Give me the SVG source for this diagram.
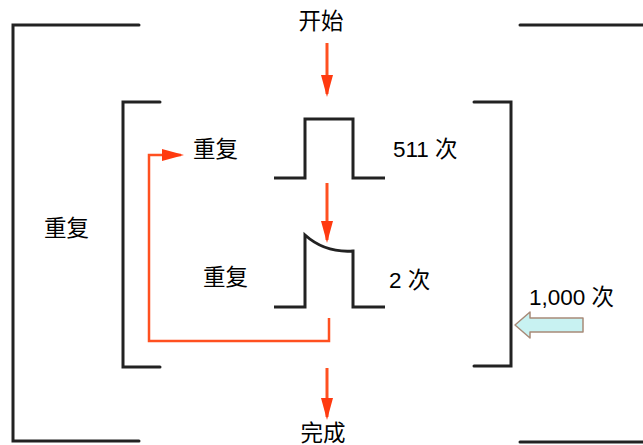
<svg xmlns="http://www.w3.org/2000/svg" width="643" height="445" viewBox="0 0 643 445">
<defs>
<style>
.br{fill:none;stroke:#222;stroke-width:3;stroke-linecap:round;stroke-linejoin:miter}
.pl{fill:none;stroke:#222;stroke-width:3;stroke-linejoin:miter}
.ar{fill:none;stroke:#ff5020;stroke-width:3}
.or{fill:none;stroke:#ff5020;stroke-width:2.5}
.t{font-family:"Liberation Sans","Noto Sans CJK SC",sans-serif;font-size:22.5px;fill:#000}
</style>
<marker id="ah" viewBox="0 0 22 12" refX="19" refY="6" markerWidth="22" markerHeight="12" markerUnits="userSpaceOnUse" orient="auto">
<path d="M0,0 L22,6 L0,12 Z" fill="#ff3a10"/>
</marker>
</defs>
<g id="outer-bracket-left"><path class="br" d="M139,25 H13 V441 H139"/></g>
<g id="outer-bracket-right"><path class="br" d="M520,25 H645 M520,442 H645"/></g>
<g id="inner-bracket-left"><path class="br" d="M160,102 H123 V367 H160"/></g>
<g id="inner-bracket-right"><path class="br" d="M474,102 H511 V366 H474"/></g>
<g id="pulse1"><path class="pl" d="M274,178 H305 V119 H353 V178 H385"/></g>
<g id="pulse2"><path class="pl" d="M274,307 H305 V235 Q325,253 353,251 V307 H385"/></g>
<g id="connectors">
<path class="ar" d="M327,43 V94" marker-end="url(#ah)"/>
<path class="ar" d="M327,183 V240" marker-end="url(#ah)"/>
<path class="ar" d="M327,368 V417" marker-end="url(#ah)"/>
<path class="or" d="M329,318 V341 H149 V155 H181" marker-end="url(#ah)"/>
<path id="big-arrow" d="M515,325 L530,312 V318 H583 V332 H530 V338 Z" fill="#c8f2f2" stroke="#a88a78" stroke-width="1.5" stroke-linejoin="round"/>
</g>
<g id="labels">
<text class="t" x="321" y="29" text-anchor="middle">开始</text>
<text class="t" x="193" y="157">重复</text>
<text class="t" x="393" y="157">511 次</text>
<text class="t" x="44" y="236">重复</text>
<text class="t" x="203" y="285">重复</text>
<text class="t" x="389" y="288">2 次</text>
<text class="t" x="529" y="305">1,000 次</text>
<text class="t" x="323" y="441" text-anchor="middle">完成</text>
</g>
</svg>
